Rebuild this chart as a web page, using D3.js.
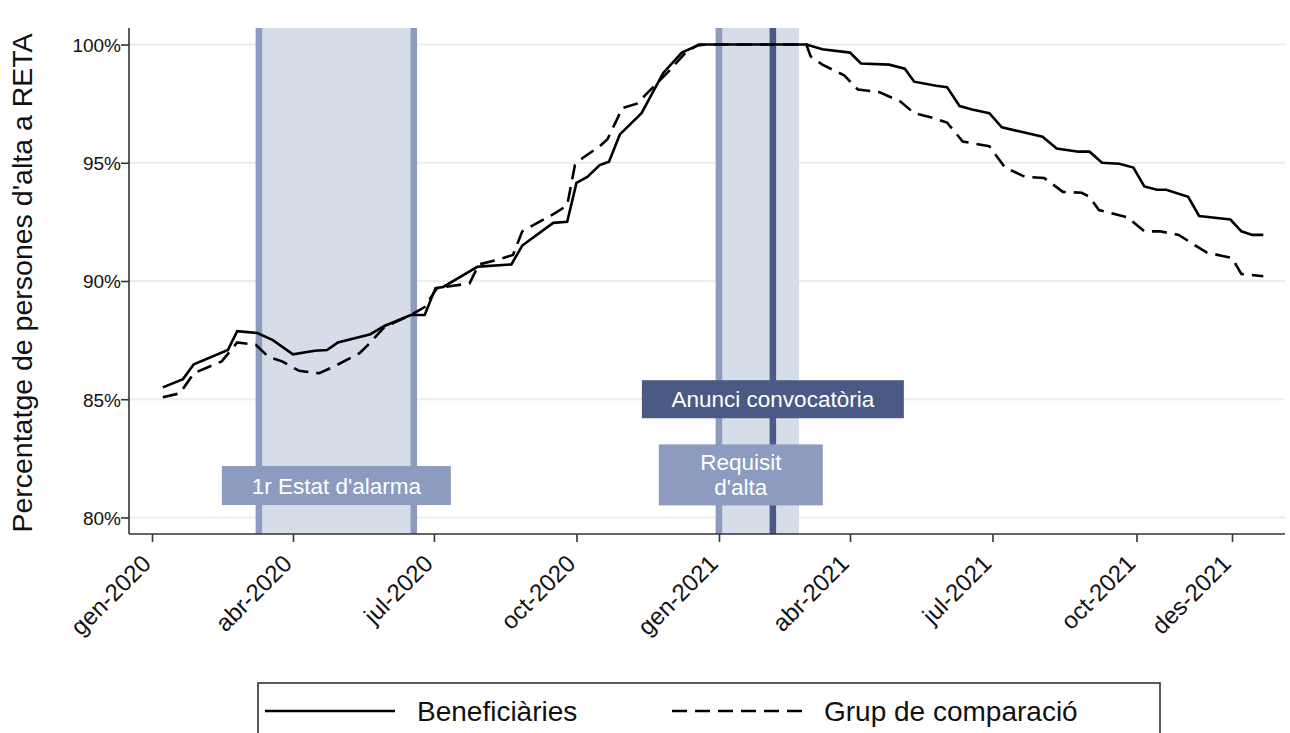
<!DOCTYPE html>
<html>
<head>
<meta charset="utf-8">
<script src="https://cdn.jsdelivr.net/npm/d3@7"></script>
<style>
  body { margin: 0; background: #fff; }
  svg { font-family: "Liberation Sans", Arial, sans-serif; }
</style>
</head>
<body>
<div id="chart"></div>
<script>
// ---- data ----
var benefDates = ['2020-01-08','2020-01-21','2020-01-28','2020-02-19','2020-02-25','2020-03-09','2020-03-19','2020-04-01','2020-04-15','2020-04-23','2020-04-30','2020-05-21','2020-05-30','2020-06-16','2020-06-25','2020-07-02','2020-07-07','2020-07-29','2020-08-04','2020-08-20','2020-08-27','2020-09-16','2020-09-25','2020-10-01','2020-10-08','2020-10-16','2020-10-22','2020-10-29','2020-11-12','2020-11-26','2020-12-08','2020-12-18','2020-12-24','2021-03-02','2021-03-13','2021-04-01','2021-04-08','2021-04-26','2021-05-06','2021-05-12','2021-05-26','2021-06-02','2021-06-10','2021-06-18','2021-06-29','2021-07-07','2021-07-20','2021-08-02','2021-08-11','2021-08-25','2021-09-01','2021-09-09','2021-09-20','2021-09-29','2021-10-06','2021-10-14','2021-10-20','2021-11-03','2021-11-10','2021-11-30','2021-12-07','2021-12-14','2021-12-21'];
var benefValues = [85.5,85.85,86.48,87.08,87.88,87.8,87.5,86.9,87.05,87.08,87.4,87.75,88.1,88.56,88.56,89.7,89.75,90.6,90.63,90.7,91.5,92.46,92.5,94.15,94.4,94.9,95.04,96.2,97.1,98.8,99.66,99.96,100,100,99.8,99.66,99.2,99.15,98.98,98.43,98.26,98.2,97.4,97.25,97.1,96.5,96.3,96.1,95.6,95.47,95.47,95.0,94.96,94.8,94.0,93.86,93.86,93.56,92.75,92.6,92.1,91.95,91.95];

var compDates = ['2020-01-08','2020-01-19','2020-01-28','2020-02-15','2020-02-25','2020-03-08','2020-03-16','2020-03-25','2020-04-05','2020-04-18','2020-04-28','2020-05-14','2020-05-21','2020-05-30','2020-06-16','2020-06-25','2020-07-03','2020-07-24','2020-07-30','2020-08-11','2020-08-21','2020-08-27','2020-09-18','2020-09-25','2020-09-30','2020-10-05','2020-10-16','2020-10-21','2020-10-28','2020-10-30','2020-11-09','2020-11-15','2020-11-30','2020-12-11','2020-12-19','2021-03-02','2021-03-05','2021-03-13','2021-03-28','2021-04-06','2021-04-20','2021-05-03','2021-05-12','2021-05-24','2021-06-02','2021-06-12','2021-06-29','2021-07-09','2021-07-22','2021-08-03','2021-08-15','2021-08-27','2021-09-01','2021-09-07','2021-09-25','2021-10-06','2021-10-16','2021-10-28','2021-11-09','2021-11-15','2021-11-25','2021-12-01','2021-12-07','2021-12-21'];
var compValues = [85.08,85.25,86.1,86.6,87.4,87.3,86.8,86.6,86.2,86.1,86.4,86.95,87.4,88.05,88.56,88.9,89.7,89.9,90.7,90.9,91.1,92.1,92.9,93.2,94.9,95.2,95.7,96.0,96.95,97.3,97.5,97.9,98.9,99.7,100,100,99.5,99.15,98.7,98.1,97.98,97.6,97.1,96.9,96.7,95.9,95.7,94.8,94.4,94.36,93.77,93.73,93.56,93.0,92.7,92.1,92.1,91.95,91.44,91.2,91.06,90.97,90.3,90.2];

var seriesNames = ['Beneficiàries', 'Grup de comparació'];

var tickDates = ['2020-01-01','2020-04-01','2020-07-01','2020-10-01','2021-01-01','2021-04-01','2021-07-01','2021-10-01','2021-12-01'];
var tickLabels = ['gen-2020','abr-2020','jul-2020','oct-2020','gen-2021','abr-2021','jul-2021','oct-2021','des-2021'];
var yTicks = [80, 85, 90, 95, 100];

// periods & events
var alarmPeriod = ['2020-03-10', '2020-06-18'];
var requisitPeriod = ['2021-01-01', '2021-02-25'];
var anunciDate = '2021-02-07';
var annoLabels = ["1r Estat d'alarma", 'Anunci convocatòria', ['Requisit', "d'alta"]];
var annoDates = ['2020-04-29', '2021-02-07', '2021-01-16'];
var annoValues = [81.35, 85.0, 81.8];

// ---- layout ----
var width = 1290, height = 733;
var m = { left: 129, right: 1285, top: 28, bottom: 534 };
var parse = d3.timeParse('%Y-%m-%d');

var svg = d3.select('#chart').append('svg')
    .attr('width', width)
    .attr('height', height);

// x axis in the source is not evenly spaced by day, so anchor the scale on its tick dates
var x = d3.scaleTime()
    .domain([parse('2020-01-01'), parse('2021-01-01'), parse('2021-04-01'), parse('2021-12-01')])
    .range([152, 719, 850, 1232]);

var y = d3.scaleLinear().domain([79.3, 100.7]).range([m.bottom, m.top]);

// gridlines
svg.append('g').selectAll('line').data(yTicks).enter().append('line')
    .attr('x1', m.left).attr('x2', m.right)
    .attr('y1', d => y(d)).attr('y2', d => y(d))
    .attr('stroke', '#e6eff0').attr('stroke-width', 2);

// shaded periods
var bandFill = '#d7dce9', bandLine = '#8c9bbf', darkLine = '#4a5a84';

svg.append('rect')
    .attr('x', x(parse(alarmPeriod[0])) - 3)
    .attr('width', x(parse(alarmPeriod[1])) - x(parse(alarmPeriod[0])) + 6)
    .attr('y', m.top).attr('height', m.bottom - m.top)
    .attr('fill', bandFill);

svg.append('rect')
    .attr('x', x(parse(requisitPeriod[0])) - 3.5)
    .attr('width', x(parse(requisitPeriod[1])) - x(parse(requisitPeriod[0])) + 3.5)
    .attr('y', m.top).attr('height', m.bottom - m.top)
    .attr('fill', bandFill);

var vlines = [
    { d: alarmPeriod[0], c: bandLine },
    { d: alarmPeriod[1], c: bandLine },
    { d: requisitPeriod[0], c: bandLine },
    { d: anunciDate, c: darkLine }
];
svg.append('g').selectAll('line').data(vlines).enter().append('line')
    .attr('x1', d => x(parse(d.d))).attr('x2', d => x(parse(d.d)))
    .attr('y1', m.top).attr('y2', m.bottom)
    .attr('stroke', d => d.c).attr('stroke-width', 6.5);

// lines
var line = d3.line().x(d => x(d[0])).y(d => y(d[1]));
var benef = benefDates.map((d, i) => [parse(d), benefValues[i]]);
var comp = compDates.map((d, i) => [parse(d), compValues[i]]);

svg.append('path').datum(comp)
    .attr('d', line).attr('fill', 'none')
    .attr('stroke', '#000').attr('stroke-width', 2.6)
    .attr('stroke-dasharray', '15,8');

svg.append('path').datum(benef)
    .attr('d', line).attr('fill', 'none')
    .attr('stroke', '#000').attr('stroke-width', 2.6);

// annotation boxes
var boxes = [
    { w: 229, h: 39, fill: bandLine },
    { w: 262, h: 38, fill: darkLine },
    { w: 164, h: 61, fill: bandLine }
];
boxes.forEach(function (b, i) {
    var cx = x(parse(annoDates[i])), cy = y(annoValues[i]);
    var g = svg.append('g').attr('transform', `translate(${cx},${cy})`);
    g.append('rect')
        .attr('x', -b.w / 2).attr('y', -b.h / 2)
        .attr('width', b.w).attr('height', b.h)
        .attr('fill', b.fill);
    var lines = [].concat(annoLabels[i]);
    g.selectAll('text').data(lines).enter().append('text')
        .attr('text-anchor', 'middle')
        .attr('y', (d, j) => (j - (lines.length - 1) / 2) * 25)
        .attr('dy', '0.36em')
        .attr('fill', '#fff')
        .style('font-size', '22.5px')
        .text(d => d);
});

// axes
var xAxis = svg.append('g')
    .attr('transform', `translate(0,${m.bottom})`)
    .call(d3.axisBottom(x)
        .tickValues(tickDates.map(parse))
        .tickFormat((d, i) => tickLabels[i])
        .tickSize(8)
        .tickSizeOuter(0));
xAxis.select('.domain').attr('d', `M${m.left},0H${m.right}`);
xAxis.selectAll('path, line').attr('stroke', '#333').attr('stroke-width', 1.6);
xAxis.selectAll('text')
    .attr('fill', '#111')
    .style('font-size', '24px')
    .style('text-anchor', 'end')
    .attr('x', 0).attr('y', 0).attr('dy', 0)
    .attr('transform', 'translate(0,31) rotate(-45)');

var yAxis = svg.append('g')
    .attr('transform', `translate(${m.left},0)`)
    .call(d3.axisLeft(y)
        .tickValues(yTicks)
        .tickFormat(d => d + '%')
        .tickSize(8)
        .tickSizeOuter(0));
yAxis.select('.domain').attr('d', `M0,${m.top}V${m.bottom}`);
yAxis.selectAll('path, line').attr('stroke', '#333').attr('stroke-width', 1.6);
yAxis.selectAll('text')
    .attr('fill', '#111')
    .style('font-size', '19px')
    .attr('x', -8)
    .attr('dy', '0.36em');

svg.append('text')
    .attr('transform', `translate(32,${(m.top + m.bottom) / 2 + 2}) rotate(-90)`)
    .attr('text-anchor', 'middle')
    .attr('fill', '#111')
    .style('font-size', '28.5px')
    .text("Percentatge de persones d'alta a RETA");

// legend
var legend = svg.append('g');
legend.append('rect')
    .attr('x', 258).attr('y', 683)
    .attr('width', 902).attr('height', 70)
    .attr('fill', '#fff').attr('stroke', '#333').attr('stroke-width', 1.6);
var legendItems = [
    { x: 265, dash: null },
    { x: 672, dash: '15,8' }
];
legendItems.forEach(function (it, i) {
    legend.append('line')
        .attr('x1', it.x).attr('x2', it.x + 130)
        .attr('y1', 711).attr('y2', 711)
        .attr('stroke', '#000').attr('stroke-width', 2.6)
        .attr('stroke-dasharray', it.dash);
    legend.append('text')
        .attr('x', it.x + 152).attr('y', 711)
        .attr('dy', '0.36em')
        .attr('fill', '#111')
        .style('font-size', '28px')
        .text(seriesNames[i]);
});
</script>
</body>
</html>
